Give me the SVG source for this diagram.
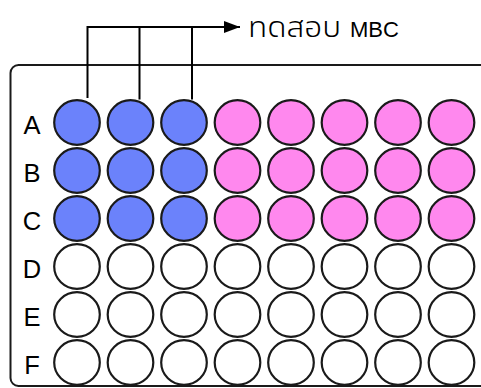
<svg xmlns="http://www.w3.org/2000/svg" width="481" height="388" viewBox="0 0 481 388">
<style>
.w{stroke:#1a1a1a;stroke-width:2.2}
.b{fill:#6b82fb}
.p{fill:#ff88ee}
.e{fill:#ffffff}
.lbl{font-family:"Liberation Sans",Arial,sans-serif;font-size:25.5px;fill:#000;text-anchor:middle}
.c{stroke:#000;stroke-width:2;fill:none}
</style>
<defs>
<marker id="ah" markerWidth="17" markerHeight="14" refX="16" refY="7" orient="auto" markerUnits="userSpaceOnUse">
<path d="M0,1 L16,7 L0,13 Z" fill="#000"/>
</marker>
</defs>
<rect id="plate" x="10.5" y="65" width="500" height="321" rx="8" fill="#fff" stroke="#1a1a1a" stroke-width="2"/>
<g id="labels">
<text class="lbl" x="32" y="133.5">A</text>
<text class="lbl" x="32" y="181.5">B</text>
<text class="lbl" x="32" y="229.5">C</text>
<text class="lbl" x="32" y="277.5">D</text>
<text class="lbl" x="32" y="325.5">E</text>
<text class="lbl" x="32" y="373.5">F</text>
</g>
<g id="rowA">
<ellipse class="w b" cx="77" cy="122.5" rx="22.8" ry="22.3"/>
<ellipse class="w b" cx="130.5" cy="122.5" rx="22.8" ry="22.3"/>
<ellipse class="w b" cx="184" cy="122.5" rx="22.8" ry="22.3"/>
<ellipse class="w p" cx="237.5" cy="122.5" rx="22.8" ry="22.3"/>
<ellipse class="w p" cx="291" cy="122.5" rx="22.8" ry="22.3"/>
<ellipse class="w p" cx="344.5" cy="122.5" rx="22.8" ry="22.3"/>
<ellipse class="w p" cx="398" cy="122.5" rx="22.8" ry="22.3"/>
<ellipse class="w p" cx="451.5" cy="122.5" rx="22.8" ry="22.3"/>
</g>
<g id="rowB">
<ellipse class="w b" cx="77" cy="170.5" rx="22.8" ry="22.3"/>
<ellipse class="w b" cx="130.5" cy="170.5" rx="22.8" ry="22.3"/>
<ellipse class="w b" cx="184" cy="170.5" rx="22.8" ry="22.3"/>
<ellipse class="w p" cx="237.5" cy="170.5" rx="22.8" ry="22.3"/>
<ellipse class="w p" cx="291" cy="170.5" rx="22.8" ry="22.3"/>
<ellipse class="w p" cx="344.5" cy="170.5" rx="22.8" ry="22.3"/>
<ellipse class="w p" cx="398" cy="170.5" rx="22.8" ry="22.3"/>
<ellipse class="w p" cx="451.5" cy="170.5" rx="22.8" ry="22.3"/>
</g>
<g id="rowC">
<ellipse class="w b" cx="77" cy="218.5" rx="22.8" ry="22.3"/>
<ellipse class="w b" cx="130.5" cy="218.5" rx="22.8" ry="22.3"/>
<ellipse class="w b" cx="184" cy="218.5" rx="22.8" ry="22.3"/>
<ellipse class="w p" cx="237.5" cy="218.5" rx="22.8" ry="22.3"/>
<ellipse class="w p" cx="291" cy="218.5" rx="22.8" ry="22.3"/>
<ellipse class="w p" cx="344.5" cy="218.5" rx="22.8" ry="22.3"/>
<ellipse class="w p" cx="398" cy="218.5" rx="22.8" ry="22.3"/>
<ellipse class="w p" cx="451.5" cy="218.5" rx="22.8" ry="22.3"/>
</g>
<g id="rowD">
<ellipse class="w e" cx="77" cy="266.5" rx="22.8" ry="22.3"/>
<ellipse class="w e" cx="130.5" cy="266.5" rx="22.8" ry="22.3"/>
<ellipse class="w e" cx="184" cy="266.5" rx="22.8" ry="22.3"/>
<ellipse class="w e" cx="237.5" cy="266.5" rx="22.8" ry="22.3"/>
<ellipse class="w e" cx="291" cy="266.5" rx="22.8" ry="22.3"/>
<ellipse class="w e" cx="344.5" cy="266.5" rx="22.8" ry="22.3"/>
<ellipse class="w e" cx="398" cy="266.5" rx="22.8" ry="22.3"/>
<ellipse class="w e" cx="451.5" cy="266.5" rx="22.8" ry="22.3"/>
</g>
<g id="rowE">
<ellipse class="w e" cx="77" cy="314.5" rx="22.8" ry="22.3"/>
<ellipse class="w e" cx="130.5" cy="314.5" rx="22.8" ry="22.3"/>
<ellipse class="w e" cx="184" cy="314.5" rx="22.8" ry="22.3"/>
<ellipse class="w e" cx="237.5" cy="314.5" rx="22.8" ry="22.3"/>
<ellipse class="w e" cx="291" cy="314.5" rx="22.8" ry="22.3"/>
<ellipse class="w e" cx="344.5" cy="314.5" rx="22.8" ry="22.3"/>
<ellipse class="w e" cx="398" cy="314.5" rx="22.8" ry="22.3"/>
<ellipse class="w e" cx="451.5" cy="314.5" rx="22.8" ry="22.3"/>
</g>
<g id="rowF">
<ellipse class="w e" cx="77" cy="362.5" rx="22.8" ry="22.3"/>
<ellipse class="w e" cx="130.5" cy="362.5" rx="22.8" ry="22.3"/>
<ellipse class="w e" cx="184" cy="362.5" rx="22.8" ry="22.3"/>
<ellipse class="w e" cx="237.5" cy="362.5" rx="22.8" ry="22.3"/>
<ellipse class="w e" cx="291" cy="362.5" rx="22.8" ry="22.3"/>
<ellipse class="w e" cx="344.5" cy="362.5" rx="22.8" ry="22.3"/>
<ellipse class="w e" cx="398" cy="362.5" rx="22.8" ry="22.3"/>
<ellipse class="w e" cx="451.5" cy="362.5" rx="22.8" ry="22.3"/>
</g>
<g id="connectors">
<path class="c" d="M87.5,98 V27 M139.5,99.5 V27 M192,99.5 V27 M86.5,27 H240" marker-end="url(#ah)"/>
</g>
<g id="mbc-label">
<text x="248" y="37" fill="#000" font-family="'Noto Sans Thai','Noto Sans','DejaVu Sans',sans-serif" font-size="28" font-weight="300" textLength="93" lengthAdjust="spacingAndGlyphs">ทดสอบ</text>
<text x="350" y="37" fill="#000" font-family="'Liberation Sans',Arial,sans-serif" font-size="22">MBC</text>
</g>
</svg>
